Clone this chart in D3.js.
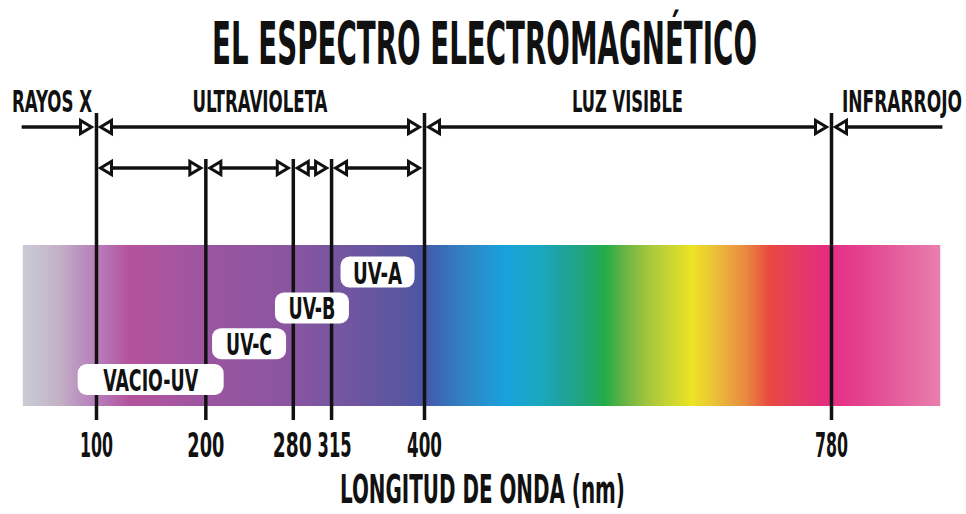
<!DOCTYPE html>
<html>
<head>
<meta charset="utf-8">
<script src="https://cdn.jsdelivr.net/npm/d3@7"></script>
<style>
  html, body { margin: 0; padding: 0; background: #fff; }
  svg { display: block; }
  text { font-family: "Liberation Sans Narrow", "DejaVu Sans Condensed", "Liberation Sans", sans-serif; font-weight: bold; fill: #111; }
</style>
</head>
<body>
<svg id="chart" width="966" height="514"></svg>
<script>
// ---------- data ----------
const tickValues = [100, 200, 280, 315, 400, 780];
const tickLabels = ["100", "200", "280", "315", "400", "780"];
const majorBoundaries = [100, 400, 780];

const regionNames = ["RAYOS X", "ULTRAVIOLETA", "LUZ VISIBLE", "INFRARROJO"];
const regionFrom  = [32, 100, 400, 780];
const regionTo    = [100, 400, 780, 884];

const uvNames = ["VACIO-UV", "UV-C", "UV-B", "UV-A"];
const uvFrom  = [100, 200, 280, 315];
const uvTo    = [200, 280, 315, 400];

const spectrumExtent = [33, 882];
const stopNm    = [33, 67, 85, 104, 131, 168, 201, 277, 314, 378, 400, 415, 443, 476, 508, 527, 550, 569, 588, 611, 650, 672, 700, 723, 751, 777, 807, 844, 882];
const stopColor = ["#c9cdd6", "#c4b0c6", "#bb92c0", "#b67ab8", "#b4529c", "#a955a0", "#9b55a0", "#8a55a0", "#7955a0", "#5c55a0", "#4a56a6", "#3a6ab5", "#2e88c8", "#18a2dc", "#1aa8c0", "#1fa2a2", "#20a478", "#22ac48", "#6ab444", "#a8c83c", "#ece424", "#ecc038", "#e88a40", "#e84840", "#e43a66", "#e42c82", "#e4408f", "#e4609c", "#e880b0"];

const titleText = "EL ESPECTRO ELECTROMAGNÉTICO";
const axisTitle = "LONGITUD DE ONDA (nm)";

// ---------- layout / style ----------
const W = 966, H = 514;
const specTop = 245, specBottom = 406;
const lineTop = 113, lineBottom = 420;
const row1Y = 127, row2Y = 168;
const minorLineTop = 159;
const boxWidths = [146, 74, 74, 74];
const boxH = 31;
const boxBottomCenter = 379.5, boxStep = 35.8;
const black = "#111";
// rendered widths of the narrow display type
const textWidths = {
  "EL ESPECTRO ELECTROMAGNÉTICO": 545, "LONGITUD DE ONDA (nm)": 285,
  "RAYOS X": 80, "ULTRAVIOLETA": 135, "LUZ VISIBLE": 111, "INFRARROJO": 120,
  "VACIO-UV": 95, "UV-C": 46, "UV-B": 47, "UV-A": 49,
  "100": 33, "200": 37, "280": 39, "315": 34, "400": 35, "780": 33
};
const tickNudge = { "280": -1, "315": 3 };

const svg = d3.select("#chart");
svg.append("rect").attr("width", W).attr("height", H).attr("fill", "#fff");

const x = d3.scaleLinear().domain([100, 400, 780]).range([96, 424, 831]);

// gradient
const defs = svg.append("defs");
const x0 = x(spectrumExtent[0]), x1 = x(spectrumExtent[1]);
const grad = defs.append("linearGradient").attr("id", "spec")
  .attr("gradientUnits", "userSpaceOnUse")
  .attr("x1", x0).attr("x2", x1).attr("y1", 0).attr("y2", 0);
grad.selectAll("stop").data(stopNm).join("stop")
  .attr("offset", d => (x(d) - x0) / (x1 - x0))
  .attr("stop-color", (d, i) => stopColor[i]);

svg.append("rect")
  .attr("x", x0).attr("y", specTop)
  .attr("width", x1 - x0).attr("height", specBottom - specTop)
  .attr("fill", "url(#spec)");

// axis with vertical boundary lines
const axis = d3.axisBottom(x)
  .tickValues(tickValues)
  .tickFormat((d, i) => tickLabels[i])
  .tickSize(-(lineBottom - lineTop))
  .tickPadding(13.5);
const gAxis = svg.append("g").attr("transform", `translate(0,${lineBottom})`).call(axis);
gAxis.select(".domain").remove();
gAxis.selectAll(".tick line")
  .attr("stroke", black).attr("stroke-width", 3.5)
  .attr("y2", d => majorBoundaries.includes(d) ? -(lineBottom - lineTop) : -(lineBottom - minorLineTop));
gAxis.selectAll(".tick text")
  .attr("font-size", 33).attr("fill", black).attr("font-family", null)
  .attr("x", (d, i) => tickNudge[tickLabels[i]] || 0)
  .classed("cond", true);

// arrows
const tipOff = 4.5, headW = 11, headH = 13;
function head(g, xTip, y, dir) {
  const bx = xTip - dir * headW;
  g.append("path")
    .attr("d", `M${xTip},${y} L${bx},${y - headH / 2} L${bx},${y + headH / 2} Z`)
    .attr("fill", "#fff").attr("stroke", black).attr("stroke-width", 3)
    .attr("stroke-linejoin", "miter");
}
function arrow(g, a, b, y, headA, headB) {
  const xa = x(a), xb = x(b);
  const la = headA ? xa + tipOff + headW : xa;
  const lb = headB ? xb - tipOff - headW : xb;
  g.append("line").attr("x1", la).attr("x2", lb).attr("y1", y).attr("y2", y)
    .attr("stroke", black).attr("stroke-width", 3.5);
  if (headA) head(g, xa + tipOff, y, -1);
  if (headB) head(g, xb - tipOff, y, +1);
}
const gArr = svg.append("g");
regionNames.forEach((n, i) => {
  arrow(gArr, regionFrom[i], regionTo[i], row1Y, i > 0, i < regionNames.length - 1);
});
uvNames.forEach((n, i) => {
  arrow(gArr, uvFrom[i], uvTo[i], row2Y, true, true);
});

// UV boxes
const gBox = svg.append("g");
uvNames.forEach((n, i) => {
  const cx = x((uvFrom[i] + uvTo[i]) / 2);
  const cy = boxBottomCenter - i * boxStep;
  gBox.append("rect")
    .attr("x", cx - boxWidths[i] / 2).attr("y", cy - boxH / 2)
    .attr("width", boxWidths[i]).attr("height", boxH)
    .attr("rx", 9).attr("fill", "#fff");
  gBox.append("text").attr("class", "cond")
    .attr("x", cx).attr("y", cy + 11.5)
    .attr("text-anchor", "middle").attr("font-size", 31)
    .text(n);
});

// region labels
const anchors = ["end", "middle", "middle", "start"];
regionNames.forEach((n, i) => {
  let lx;
  if (i === 0) lx = x(regionTo[i]) - 4;
  else if (i === regionNames.length - 1) lx = x(regionFrom[i]) + 11;
  else lx = (x(regionFrom[i]) + x(regionTo[i])) / 2;
  svg.append("text").attr("class", "cond")
    .attr("x", lx).attr("y", 112)
    .attr("text-anchor", anchors[i]).attr("font-size", 30)
    .text(n);
});

// title and axis title
svg.append("text").attr("class", "cond")
  .attr("x", 484.5).attr("y", 64).attr("text-anchor", "middle")
  .attr("font-size", 58).text(titleText);
svg.append("text").attr("class", "cond")
  .attr("x", 482.5).attr("y", 503).attr("text-anchor", "middle")
  .attr("font-size", 39).text(axisTitle);

// condense each text horizontally to the narrow display type widths
svg.selectAll("text.cond").each(function () {
  const sel = d3.select(this);
  const w = textWidths[sel.text()];
  if (!w) return;
  const natural = this.getComputedTextLength();
  const tx = +sel.attr("x") || 0;
  sel.attr("x", 0)
     .attr("transform", `translate(${tx},0) scale(${w / natural},1)`);
});
</script>
</body>
</html>
